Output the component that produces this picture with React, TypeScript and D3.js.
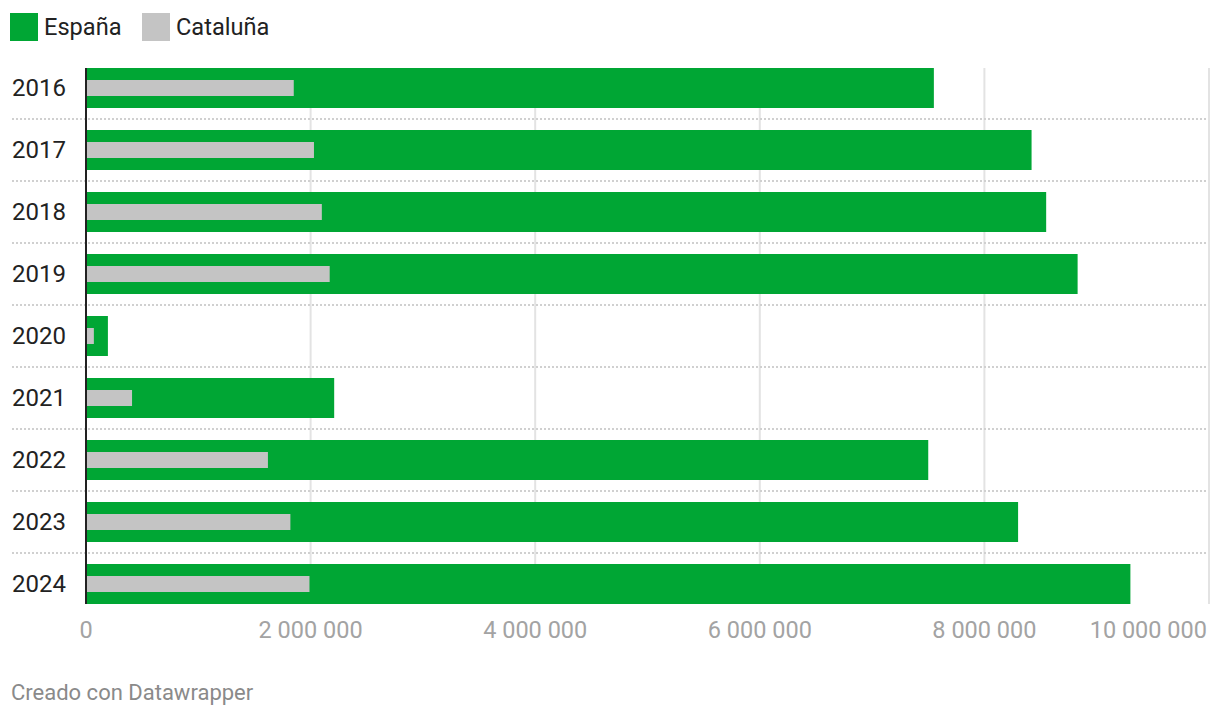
import React, { useEffect, useRef } from 'react';
import * as d3 from 'd3';

const years = ['2016', '2017', '2018', '2019', '2020', '2021', '2022', '2023', '2024'];
const espana = [7550000, 8420000, 8550000, 8830000, 195000, 2210000, 7500000, 8300000, 9300000];
const cataluna = [1850000, 2030000, 2100000, 2170000, 70000, 410000, 1620000, 1820000, 1990000];
const ticks = [0, 2000000, 4000000, 6000000, 8000000, 10000000];

const GREEN = '#00a634';
const GREY = '#c4c4c4';
const FONT = 'Roboto, sans-serif';

const fmt = (v: number) => d3.format(',')(v).replace(/,/g, ' ');

const App = () => {
  const ref = useRef<SVGSVGElement>(null);

  useEffect(() => {
    const svg = d3.select(ref.current);
    svg.selectAll('*').remove();

    const x = d3.scaleLinear().domain([0, 10000000]).range([86, 1209]);
    const y = d3
      .scaleBand()
      .domain(years)
      .range([57, 615])
      .paddingInner(22 / 62)
      .paddingOuter(11 / 62);
    const bw = y.bandwidth();

    // legend
    const legend = [
      { name: 'España', color: GREEN, x: 10 },
      { name: 'Cataluña', color: GREY, x: 142 }
    ];
    const lg = svg.selectAll('.leg').data(legend).join('g').attr('class', 'leg');
    lg.append('rect')
      .attr('x', d => d.x)
      .attr('y', 13)
      .attr('width', 28)
      .attr('height', 28)
      .attr('fill', d => d.color);
    lg.append('text')
      .attr('x', d => d.x + 34)
      .attr('y', 26.5)
      .attr('dy', '0.35em')
      .attr('font-size', 23.6)
      .attr('fill', '#222')
      .text(d => d.name);

    // grid lines
    svg
      .selectAll('.grid')
      .data(ticks.slice(1))
      .join('line')
      .attr('class', 'grid')
      .attr('x1', d => x(d))
      .attr('x2', d => x(d))
      .attr('y1', 68)
      .attr('y2', 604)
      .attr('stroke', '#e3e3e3')
      .attr('stroke-width', 2);

    // row separators
    svg
      .selectAll('.sep')
      .data(years.slice(1))
      .join('line')
      .attr('class', 'sep')
      .attr('x1', 12)
      .attr('x2', 1207)
      .attr('y1', d => (y(d) as number) - 11)
      .attr('y2', d => (y(d) as number) - 11)
      .attr('stroke', '#d0d0d0')
      .attr('stroke-width', 2)
      .attr('stroke-dasharray', '2,2');

    // bars
    svg
      .selectAll('.bar-es')
      .data(espana)
      .join('rect')
      .attr('class', 'bar-es')
      .attr('x', x(0))
      .attr('y', (d, i) => y(years[i]) as number)
      .attr('width', d => x(d) - x(0))
      .attr('height', bw)
      .attr('fill', GREEN);

    svg
      .selectAll('.bar-ca')
      .data(cataluna)
      .join('rect')
      .attr('class', 'bar-ca')
      .attr('x', x(0))
      .attr('y', (d, i) => (y(years[i]) as number) + 12)
      .attr('width', d => x(d) - x(0))
      .attr('height', 16)
      .attr('fill', GREY);

    // zero line
    svg
      .append('line')
      .attr('x1', x(0))
      .attr('x2', x(0))
      .attr('y1', 68)
      .attr('y2', 604)
      .attr('stroke', '#222')
      .attr('stroke-width', 2);

    // year labels
    svg
      .selectAll('.ylab')
      .data(years)
      .join('text')
      .attr('class', 'ylab')
      .attr('x', 12)
      .attr('y', d => (y(d) as number) + bw / 2)
      .attr('dy', '0.35em')
      .attr('font-size', 24)
      .attr('fill', '#222')
      .text(d => d);

    // x tick labels
    svg
      .selectAll('.xlab')
      .data(ticks)
      .join('text')
      .attr('class', 'xlab')
      .attr('x', (d, i) => (i === ticks.length - 1 ? 1207 : x(d)))
      .attr('y', 630)
      .attr('dy', '0.35em')
      .attr('text-anchor', (d, i) => (i === ticks.length - 1 ? 'end' : 'middle'))
      .attr('font-size', 23.5)
      .attr('fill', '#a3a3a3')
      .text(d => fmt(d));

    svg
      .append('text')
      .attr('x', 11)
      .attr('y', 700)
      .attr('font-size', 22)
      .attr('fill', '#8a8a8a')
      .text('Creado con Datawrapper');
  }, []);

  return (
    <svg
      ref={ref}
      width={1220}
      height={718}
      style={{ position: 'absolute', left: 0, top: 0, fontFamily: FONT, background: '#fff' }}
    />
  );
};

export default App;
